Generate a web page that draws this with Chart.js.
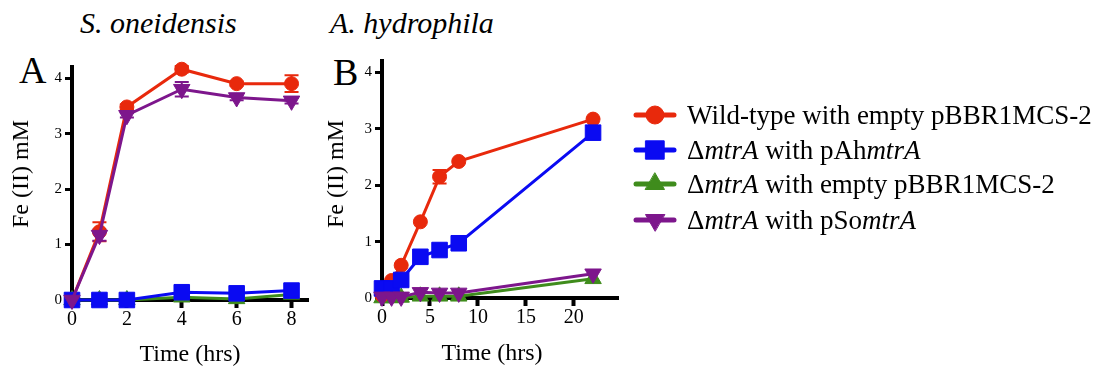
<!DOCTYPE html>
<html>
<head>
<meta charset="utf-8">
<script src="https://cdn.jsdelivr.net/npm/chart.js"></script>
<style>
  body { margin: 0; background: #fff; font-family: "Liberation Serif", serif; }
  #wrap { position: relative; width: 1103px; height: 368px; overflow: hidden; color: #000; }
  canvas.chart { position: absolute; top: 0; }
  .title { position: absolute; font-style: italic; font-size: 30px; line-height: 30px; white-space: nowrap; }
  .panel { position: absolute; font-size: 38px; line-height: 38px; }
  .axis-title { position: absolute; font-size: 24px; line-height: 28px; white-space: nowrap; transform: translate(-50%, -50%); }
  .axis-title.vertical { transform: translate(-50%, -50%) rotate(-90deg); }
  .legend-row { position: absolute; left: 633px; height: 36px; display: flex; align-items: center; font-size: 27px; white-space: nowrap; }
  .legend-row canvas { margin-right: 10px; }
</style>
</head>
<body>
<div id="wrap">
  <div class="title" style="left:80px; top:8px;">S. oneidensis</div>
  <div class="title" style="left:330px; top:8px;">A. hydrophila</div>
  <div class="panel" style="left:19px; top:51px;">A</div>
  <div class="panel" style="left:333px; top:53px;">B</div>
  <canvas id="chart-a" class="chart" width="330" height="368" style="left:0px;"></canvas>
  <canvas id="chart-b" class="chart" width="330" height="368" style="left:310px;"></canvas>
  <div class="axis-title vertical" style="left:20px; top:174px;">Fe (II) mM</div>
  <div class="axis-title vertical" style="left:335px; top:174px;">Fe (II) mM</div>
  <div class="axis-title" style="left:190px; top:353px;">Time (hrs)</div>
  <div class="axis-title" style="left:492px; top:352px;">Time (hrs)</div>
  <div id="legend"></div>
</div>
<script>
// series names (legend keeps the italic gene names)
const seriesLabels = [
  'Wild-type with empty pBBR1MCS-2',
  'Δ<i>mtrA</i> with pAh<i>mtrA</i>',
  'Δ<i>mtrA</i> with empty pBBR1MCS-2',
  'Δ<i>mtrA</i> with pSo<i>mtrA</i>'
];

// Panel A - S. oneidensis
const timesA = [0, 1, 2, 4, 6, 8];
const wildTypeA = [0, 1.23, 3.48, 4.16, 3.9, 3.9];
const wildTypeErrA = [0, 0.17, 0.05, 0.06, 0.04, 0.15];
const pAhA = [0, 0, 0, 0.14, 0.12, 0.17];
const emptyA = [0, 0, 0, 0.05, 0.02, 0.1];
const pSoA = [0, 1.17, 3.33, 3.8, 3.65, 3.59];
const pSoErrA = [0, 0.1, 0.04, 0.13, 0.05, 0.05];

// Panel B - A. hydrophila
const timesB = [0, 1, 2, 4, 6, 8, 22];
const wildTypeB = [0.05, 0.31, 0.58, 1.35, 2.15, 2.42, 3.17];
const wildTypeErrB = [0, 0, 0, 0, 0.12, 0, 0];
const pAhB = [0.17, 0.17, 0.32, 0.73, 0.85, 0.97, 2.93];
const emptyB = [0, 0, 0.01, 0.03, 0.03, 0.03, 0.34];
const pSoB = [0.02, 0.02, 0.02, 0.1, 0.09, 0.09, 0.43];

const yTicks = [0, 1, 2, 3, 4];
const xTicksA = [0, 2, 4, 6, 8];
const xTicksB = [0, 5, 10, 15, 20];

const colors = ['#E8290C', '#0A0AF2', '#3F8C1C', '#7D168C'];
const pointStyles = ['circle', 'rect', 'triangle', 'triangle'];
const pointRotations = [0, 0, 0, 180];
const pointSizes = [7, 11, 9.5, 9.5];
const drawOrder = [2, 1, 3, 0];

const FONT = "'Liberation Serif', serif";

function plain(label) {
  return label.replace(/<[^>]+>/g, '');
}

function toPoints(xs, ys) {
  return xs.map((x, i) => ({ x: x, y: ys[i] }));
}

// error bars drawn through the chart scales, under the markers
const errorBars = {
  id: 'errorBars',
  beforeDatasetsDraw(chart) {
    const { ctx, scales: { x, y } } = chart;
    chart.data.datasets.forEach(ds => {
      if (!ds.errors) return;
      ctx.save();
      ctx.strokeStyle = ds.borderColor;
      ctx.lineWidth = 2;
      ds.data.forEach((p, j) => {
        const e = ds.errors[j];
        if (!e) return;
        const px = x.getPixelForValue(p.x);
        const top = y.getPixelForValue(p.y + e);
        const bot = y.getPixelForValue(p.y - e);
        ctx.beginPath();
        ctx.moveTo(px, top); ctx.lineTo(px, bot);
        ctx.moveTo(px - 7, top); ctx.lineTo(px + 7, top);
        ctx.moveTo(px - 7, bot); ctx.lineTo(px + 7, bot);
        ctx.stroke();
      });
      ctx.restore();
    });
  }
};

function makeDatasets(times, series, errors) {
  return series.map((ys, i) => ({
    label: plain(seriesLabels[i]),
    data: toPoints(times, ys),
    errors: errors[i] || null,
    borderColor: colors[i],
    backgroundColor: colors[i],
    borderWidth: 3,
    pointStyle: pointStyles[i],
    pointRotation: pointRotations[i],
    pointRadius: pointSizes[i],
    pointBorderWidth: 1,
    order: drawOrder[i],
    clip: false,
    tension: 0
  }));
}

function makeChart(id, datasets, xMax, xStep, xTickList, layout) {
  return new Chart(document.getElementById(id), {
    type: 'line',
    data: { datasets: datasets },
    plugins: [errorBars],
    options: {
      responsive: false,
      animation: false,
      events: [],
      layout: { padding: { top: layout.top, right: layout.right, left: 0, bottom: 0 } },
      plugins: { legend: { display: false }, tooltip: { enabled: false } },
      scales: {
        x: {
          type: 'linear',
          min: 0,
          max: xMax,
          afterFit(scale) { scale.height = layout.xHeight; },
          afterBuildTicks(scale) { scale.ticks = xTickList.map(v => ({ value: v })); },
          ticks: { stepSize: xStep, includeBounds: false, padding: 0, color: '#000', font: { family: FONT, size: 20 } },
          grid: { display: true, drawOnChartArea: false, tickLength: 8, tickWidth: 4, tickColor: '#000' },
          border: { display: true, color: '#000', width: 4 }
        },
        y: {
          type: 'linear',
          min: 0,
          max: 4.2,
          afterFit(scale) { scale.width = layout.yWidth; },
          afterBuildTicks(scale) { scale.ticks = yTicks.map(v => ({ value: v })); },
          ticks: { stepSize: 1, includeBounds: false, padding: 3, color: '#000', font: { family: FONT, size: 15 } },
          grid: { display: true, drawOnChartArea: false, tickLength: 7, tickWidth: 3, tickColor: '#000' },
          border: { display: true, color: '#000', width: 4 }
        }
      }
    }
  });
}

makeChart('chart-a',
  makeDatasets(timesA, [wildTypeA, pAhA, emptyA, pSoA], [wildTypeErrA, null, null, pSoErrA]),
  8.6, 2, xTicksA,
  { top: 67, right: 22, xHeight: 68, yWidth: 72 });

makeChart('chart-b',
  makeDatasets(timesB, [wildTypeB, pAhB, emptyB, pSoB], [wildTypeErrB, null, null, null]),
  24.6, 5, xTicksB,
  { top: 61, right: 22, xHeight: 70, yWidth: 72 });

// legend: line + marker swatch and the label text
const legendRows = [115, 150, 184, 220];
const legend = document.getElementById('legend');
seriesLabels.forEach((label, i) => {
  const row = document.createElement('div');
  row.className = 'legend-row';
  row.style.top = (legendRows[i] - 18) + 'px';
  const c = document.createElement('canvas');
  c.width = 44; c.height = 36;
  const ctx = c.getContext('2d');
  ctx.strokeStyle = colors[i];
  ctx.fillStyle = colors[i];
  ctx.lineWidth = 5;
  ctx.lineCap = 'round';
  ctx.beginPath();
  ctx.moveTo(3, 18); ctx.lineTo(41, 18);
  ctx.stroke();
  ctx.lineWidth = 1;
  const sizes = [9, 13, 11, 11];
  Chart.helpers.drawPoint(ctx, { pointStyle: pointStyles[i], rotation: pointRotations[i], radius: sizes[i], borderWidth: 1 }, 22, 18);
  row.appendChild(c);
  const span = document.createElement('span');
  span.innerHTML = label;
  row.appendChild(span);
  legend.appendChild(row);
});
</script>
</body>
</html>
